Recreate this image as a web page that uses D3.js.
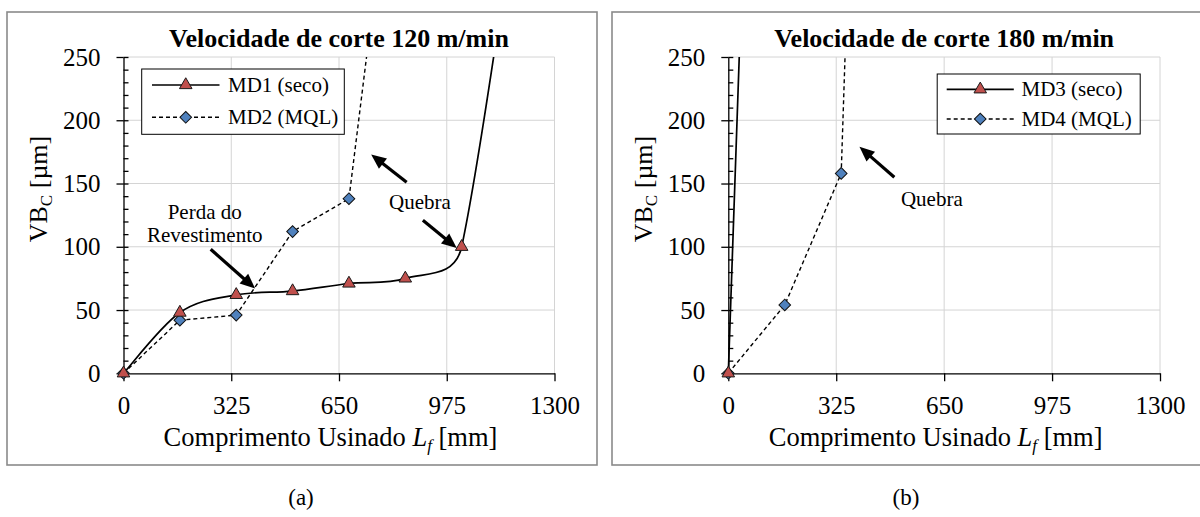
<!DOCTYPE html>
<html>
<head>
<meta charset="utf-8">
<script src="https://cdn.jsdelivr.net/npm/d3@7"></script>
<style>
  body { margin: 0; background: #fff; }
  svg text { font-family: "Liberation Serif", "Times New Roman", serif !important; }
</style>
</head>
<body>
<svg id="chart" width="1200" height="517"></svg>
<script>
// axis ticks
const xTicks = [0, 325, 650, 975, 1300];
const yTicks = [0, 50, 100, 150, 200, 250];

// 120 m/min  (last point of each series lies above the plot and is clipped)
const md1Len = [0, 170, 340, 510, 680, 850, 1020, 1360];
const md1Vb  = [0, 48, 62, 65, 71, 75, 100, 700];
const md2Len = [0, 170, 340, 510, 680, 850];
const md2Vb  = [0, 42, 46, 112, 138, 497];

// 180 m/min
const md3Len = [0, 170];
const md3Vb  = [0, 1290];
const md4Len = [0, 170, 340, 365];
const md4Vb  = [0, 54, 158, 358];

// annotations, in data units: [x tail, y tail, x tip, y tip]
const arrowsA = [[263, 98, 397, 67], [903, 121, 1005, 99], [854, 151, 747, 173]];
const notesA = [["Perda do", 245, 122], ["Revestimento", 245, 104], ["Quebra", 894, 130]];
const arrowsB = [[500, 155, 395, 179]];
const notesB = [["Quebra", 613, 132]];

const SERIF = "'Liberation Serif', 'Times New Roman', serif";
const svg = d3.select("#chart").style("font-family", SERIF);

// Excel-like smoothed line: bezier handles of 1/6, never longer than half a segment
function smoothPath(pts) {
    const p = d3.path();
    const dist = (a, b) => Math.hypot(a[0] - b[0], a[1] - b[1]);
    p.moveTo(pts[0][0], pts[0][1]);
    for (let i = 0; i < pts.length - 1; i++) {
        const p0 = pts[Math.max(i - 1, 0)], p1 = pts[i], p2 = pts[i + 1],
              p3 = pts[Math.min(i + 2, pts.length - 1)];
        const d12 = dist(p1, p2), d02 = dist(p0, p2), d13 = dist(p1, p3);
        const f1 = d02 ? Math.min(1 / 6, d12 / (2 * d02)) : 0;
        const f2 = d13 ? Math.min(1 / 6, d12 / (2 * d13)) : 0;
        p.bezierCurveTo(
            p1[0] + (p2[0] - p0[0]) * f1, p1[1] + (p2[1] - p0[1]) * f1,
            p2[0] - (p3[0] - p1[0]) * f2, p2[1] - (p3[1] - p1[1]) * f2,
            p2[0], p2[1]);
    }
    return p.toString();
}

const straight = d3.line();
const triangle = d3.symbol(d3.symbolTriangle, 68);
const diamond = d3.symbol(d3.symbolSquare, 68);

function drawMarker(sel, kind) {
    if (kind === "tri") {
        sel.append("path").attr("d", triangle)
            .attr("fill", "#C0504D").attr("stroke", "#1a1a1a").attr("stroke-width", 1);
    } else {
        sel.append("path").attr("d", diamond).attr("transform", "rotate(45)")
            .attr("fill", "#4F81BD").attr("stroke", "#111").attr("stroke-width", 1);
    }
}

function drawArrow(g, x1, y1, x2, y2) {
    const dx = x2 - x1, dy = y2 - y1, len = Math.hypot(dx, dy);
    const ux = dx / len, uy = dy / len;
    const hl = 15, hw = 13;
    g.append("line")
        .attr("x1", x1).attr("y1", y1)
        .attr("x2", x2 - ux * (hl - 2)).attr("y2", y2 - uy * (hl - 2))
        .attr("stroke", "#000").attr("stroke-width", 3.2);
    const bx = x2 - ux * hl, by = y2 - uy * hl;
    g.append("path")
        .attr("d", `M${x2},${y2}L${bx - uy * hw / 2},${by + ux * hw / 2}L${bx + uy * hw / 2},${by - ux * hw / 2}Z`)
        .attr("fill", "#000");
}

function drawPanel(cfg) {
    const g = svg.append("g");
    const [bx0, by0, bx1, by1] = cfg.box;
    const [left, right, top, bottom] = cfg.plot;

    g.append("rect")
        .attr("x", bx0).attr("y", by0)
        .attr("width", bx1 - bx0).attr("height", by1 - by0)
        .attr("fill", "#fff").attr("stroke", "#8a8a8a").attr("stroke-width", 1.6);

    const x = d3.scaleLinear().domain([0, 1300]).range([left, right]);
    const y = d3.scaleLinear().domain([0, 250]).range([bottom, top]);

    // gridlines
    g.append("g").selectAll("line").data(xTicks.slice(1)).join("line")
        .attr("x1", d => x(d)).attr("x2", d => x(d))
        .attr("y1", top).attr("y2", bottom)
        .attr("stroke", "#d4d4d4").attr("stroke-width", 1);
    g.append("g").selectAll("line").data(yTicks.slice(1)).join("line")
        .attr("x1", left).attr("x2", right)
        .attr("y1", d => y(d)).attr("y2", d => y(d))
        .attr("stroke", "#d4d4d4").attr("stroke-width", 1);

    // axes
    const yAxis = g.append("g")
        .attr("transform", `translate(${left},0)`)
        .call(d3.axisLeft(y).tickValues(yTicks).tickSize(7).tickSizeOuter(0).tickPadding(16));
    g.append("g")
        .attr("transform", `translate(${left},0)`)
        .call(d3.axisRight(y).tickValues(d3.range(0, 251, 10)).tickSize(5).tickSizeOuter(0).tickFormat(""))
        .select(".domain").remove();
    const xAxis = g.append("g")
        .attr("transform", `translate(0,${bottom})`)
        .call(d3.axisBottom(x).tickValues(xTicks).tickFormat(d3.format("d"))
            .tickSize(8).tickSizeOuter(0).tickPadding(15));
    [yAxis, xAxis].forEach(a => {
        a.attr("font-family", SERIF).attr("font-size", 25);
        a.selectAll("text").attr("fill", "#000").style("font-family", SERIF);
        a.selectAll("line, path").attr("stroke", "#000").attr("stroke-width", 1.3);
    });
    g.selectAll(".tick line").attr("stroke", "#000").attr("stroke-width", 1.3);

    // series
    const clipId = "clip" + cfg.id;
    g.append("clipPath").attr("id", clipId).append("rect")
        .attr("x", left - 10).attr("y", top)
        .attr("width", right - left + 10).attr("height", bottom - top + 10);

    cfg.series.forEach(s => {
        const pts = s.xs.map((v, i) => [x(v), y(s.ys[i])]);
        g.append("path")
            .attr("d", s.smooth ? smoothPath(pts) : straight(pts))
            .attr("fill", "none")
            .attr("stroke", "#000")
            .attr("stroke-width", s.dash ? 1.4 : 1.7)
            .attr("stroke-dasharray", s.dash ? "4,3" : null)
            .attr("clip-path", `url(#${clipId})`);
    });
    cfg.series.slice().reverse().forEach(s => {
        const vis = s.xs.map((v, i) => [v, s.ys[i]]).filter(d => d[1] <= 250);
        g.append("g").selectAll("g").data(vis).join("g")
            .attr("transform", d => `translate(${x(d[0])},${y(d[1])})`)
            .each(function () { drawMarker(d3.select(this), s.kind); });
    });

    // annotations
    cfg.arrows.forEach(a => drawArrow(g, x(a[0]), y(a[1]), x(a[2]), y(a[3])));
    g.append("g").selectAll("text").data(cfg.notes).join("text")
        .attr("x", d => x(d[1])).attr("y", d => y(d[2]))
        .attr("text-anchor", "middle").attr("font-size", 21)
        .text(d => d[0]);

    // legend
    const lg = cfg.legend;
    g.append("rect")
        .attr("x", lg.box[0]).attr("y", lg.box[1])
        .attr("width", lg.box[2] - lg.box[0]).attr("height", lg.box[3] - lg.box[1])
        .attr("fill", "#fff").attr("stroke", "#000").attr("stroke-width", 1);
    cfg.series.forEach((s, i) => {
        const ry = lg.rows[i];
        g.append("line")
            .attr("x1", lg.line[0]).attr("x2", lg.line[1])
            .attr("y1", ry).attr("y2", ry)
            .attr("stroke", "#000").attr("stroke-width", s.dash ? 1.4 : 1.7)
            .attr("stroke-dasharray", s.dash ? "4,3" : null);
        drawMarker(g.append("g").attr("transform", `translate(${(lg.line[0] + lg.line[1]) / 2},${ry})`), s.kind);
        g.append("text").attr("x", lg.textX).attr("y", ry + 7)
            .attr("font-size", 21).text(s.name);
    });

    // title
    g.append("text")
        .attr("x", (left + right) / 2).attr("y", 46.7)
        .attr("text-anchor", "middle")
        .attr("font-size", 26).attr("font-weight", "bold")
        .text(cfg.title);

    // axis titles
    const xl = g.append("text")
        .attr("x", (left + right) / 2 - 8.5).attr("y", 446)
        .attr("text-anchor", "middle").attr("font-size", 26.5);
    xl.append("tspan").text("Comprimento Usinado ");
    xl.append("tspan").attr("font-style", "italic").text("L");
    xl.append("tspan").attr("font-style", "italic").attr("font-size", 17).attr("dy", 5).text("f");
    xl.append("tspan").attr("dy", -5).text(" [mm]");

    const yl = g.append("text")
        .attr("transform", `translate(${bx0 + 40},189) rotate(-90)`)
        .attr("text-anchor", "middle").attr("font-size", 26);
    yl.append("tspan").text("VB");
    yl.append("tspan").attr("font-size", 17).attr("dy", 5).text("C");
    yl.append("tspan").attr("dy", -5).text(" [µm]");

    // caption
    svg.append("text")
        .attr("x", cfg.caption[1]).attr("y", 505)
        .attr("text-anchor", "middle").attr("font-size", 23)
        .text(cfg.caption[0]);
}

drawPanel({
    id: "A",
    box: [7, 12, 597, 465],
    plot: [123.5, 554.5, 57, 373.3],
    title: "Velocidade de corte 120 m/min",
    series: [
        { name: "MD1 (seco)", xs: md1Len, ys: md1Vb, kind: "tri", dash: false, smooth: true },
        { name: "MD2 (MQL)", xs: md2Len, ys: md2Vb, kind: "dia", dash: true, smooth: false }
    ],
    arrows: arrowsA,
    notes: notesA,
    legend: { box: [141.7, 69, 344.3, 134.3], rows: [85, 117.3], line: [152, 219.5], textX: 228 },
    caption: ["(a)", 301]
});

drawPanel({
    id: "B",
    box: [612, 12, 1201, 465],
    plot: [728.3, 1160, 57, 373.3],
    title: "Velocidade de corte 180 m/min",
    series: [
        { name: "MD3 (seco)", xs: md3Len, ys: md3Vb, kind: "tri", dash: false, smooth: true },
        { name: "MD4 (MQL)", xs: md4Len, ys: md4Vb, kind: "dia", dash: true, smooth: false }
    ],
    arrows: arrowsB,
    notes: notesB,
    legend: { box: [937.2, 74, 1140.2, 134], rows: [89.3, 119], line: [946.7, 1013.8], textX: 1021.5 },
    caption: ["(b)", 906]
});
</script>
</body>
</html>
